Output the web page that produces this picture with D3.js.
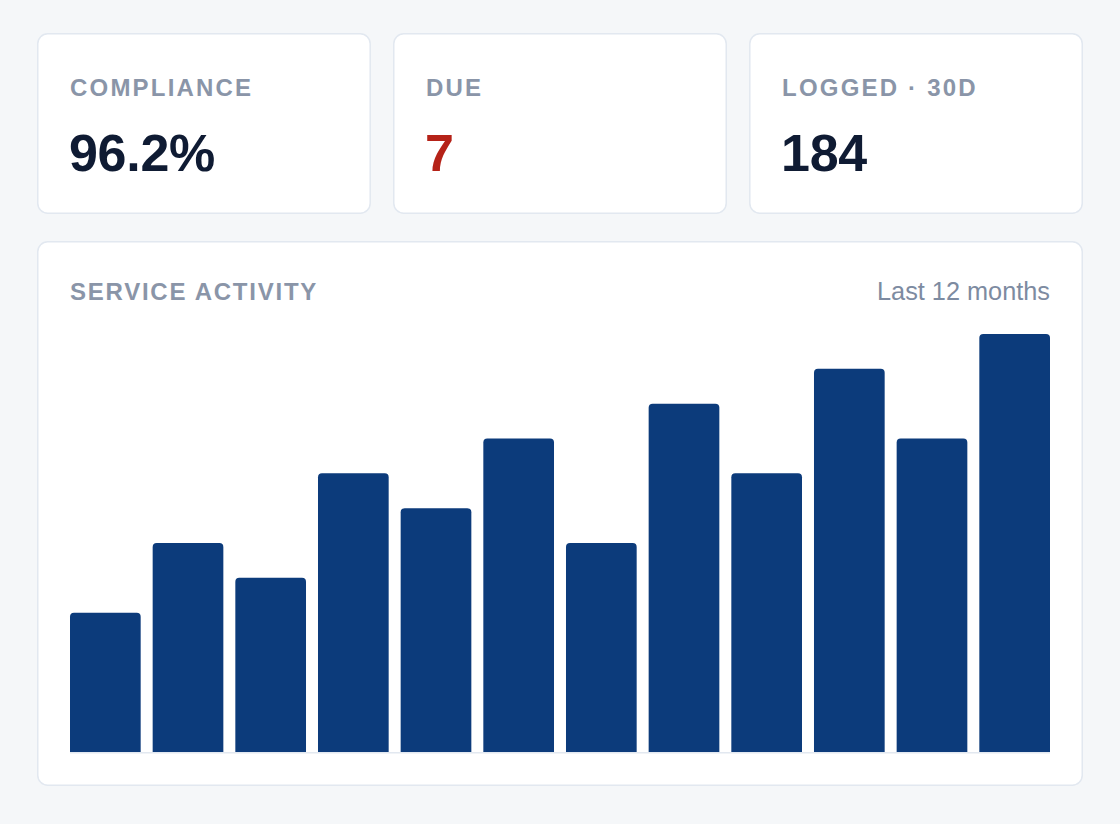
<!DOCTYPE html>
<html>
<head>
<meta charset="utf-8">
<script src="https://cdn.jsdelivr.net/npm/d3@7"></script>
<style>
  html, body { margin: 0; padding: 0; background: #f5f7f9; }
  svg { display: block; font-family: "Liberation Sans", Arial, Helvetica, sans-serif; }
</style>
</head>
<body>
<svg id="dash"></svg>
<script>
// kpi cards
const kpiLabels = ['COMPLIANCE', 'DUE', 'LOGGED \u00b7 30D'];
const kpiValues = ['96.2%', '7', '184'];
const kpiColors = ['#0f1b33', '#b52218', '#0f1b33'];

// service activity, last 12 months
const months = ['Jan', 'Feb', 'Mar', 'Apr', 'May', 'Jun', 'Jul', 'Aug', 'Sep', 'Oct', 'Nov', 'Dec'];
const activity = [8, 12, 10, 16, 14, 18, 12, 20, 16, 22, 18, 24];

const W = 1120, H = 824;
const border = '#e2e8f0';
const labelColor = '#8a95a8';

const svg = d3.select('#dash').attr('width', W).attr('height', H);

// top row of cards
const cardX = d3.scaleBand().domain(kpiLabels).range([37, 1083]).paddingInner(0.062);
const cardTop = 33, cardH = 181;

const cards = svg.selectAll('g.kpi').data(kpiLabels).enter()
  .append('g')
  .attr('class', 'kpi')
  .attr('transform', d => 'translate(' + cardX(d) + ',' + cardTop + ')');

cards.append('rect')
  .attr('x', 0.75).attr('y', 0.75)
  .attr('width', cardX.bandwidth() - 1.5).attr('height', cardH - 1.5)
  .attr('rx', 10)
  .attr('fill', '#fff')
  .attr('stroke', border).attr('stroke-width', 1.5);

cards.append('text')
  .attr('x', 33).attr('y', 63)
  .attr('fill', labelColor)
  .attr('font-size', 24).attr('font-weight', 700)
  .attr('letter-spacing', 2.2)
  .text(d => d);

cards.append('text')
  .attr('x', 32).attr('y', 138)
  .attr('fill', (d, i) => kpiColors[i])
  .attr('font-size', 52).attr('font-weight', 700)
  .attr('letter-spacing', -0.3)
  .text((d, i) => kpiValues[i]);

// activity card
const panel = { x: 37, y: 241, w: 1046, h: 545 };
svg.append('rect')
  .attr('x', panel.x + 0.75).attr('y', panel.y + 0.75)
  .attr('width', panel.w - 1.5).attr('height', panel.h - 1.5)
  .attr('rx', 10)
  .attr('fill', '#fff')
  .attr('stroke', border).attr('stroke-width', 1.5);

svg.append('text')
  .attr('x', 70).attr('y', 300)
  .attr('fill', labelColor)
  .attr('font-size', 24).attr('font-weight', 700)
  .attr('letter-spacing', 1.75)
  .text('SERVICE ACTIVITY');

svg.append('text')
  .attr('x', 1050).attr('y', 300)
  .attr('text-anchor', 'end')
  .attr('fill', '#7d8ba1')
  .attr('font-size', 25.3)
  .text('Last 12 months');

const x = d3.scaleBand().domain(months).range([70, 1050]).paddingInner(0.145).paddingOuter(0);
const y = d3.scaleLinear().domain([0, d3.max(activity)]).range([752, 334]);

// rounded top corners only
const barPath = (x0, y0, w, h, r) => {
  const p = d3.path();
  p.moveTo(x0, y0 + h);
  p.lineTo(x0, y0 + r);
  p.arcTo(x0, y0, x0 + r, y0, r);
  p.lineTo(x0 + w - r, y0);
  p.arcTo(x0 + w, y0, x0 + w, y0 + r, r);
  p.lineTo(x0 + w, y0 + h);
  p.closePath();
  return p.toString();
};

svg.append('line')
  .attr('x1', 70).attr('x2', 1050)
  .attr('y1', y(0) + 0.75).attr('y2', y(0) + 0.75)
  .attr('stroke', border).attr('stroke-width', 1.5);

svg.append('g').selectAll('path').data(activity).enter()
  .append('path')
  .attr('d', (d, i) => barPath(x(months[i]), y(d), x.bandwidth(), y(0) - y(d), 4))
  .attr('fill', '#0c3b7b');
</script>
</body>
</html>
